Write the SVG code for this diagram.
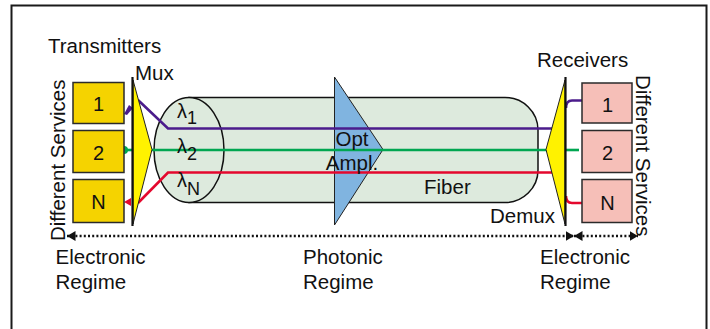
<svg xmlns="http://www.w3.org/2000/svg" width="710" height="329" viewBox="0 0 710 329">
<defs>
<style>
text{font-family:"Liberation Sans",Arial,sans-serif;fill:#111;font-size:20.5px}
.num{font-size:20px;text-anchor:middle}
.lam{font-size:20px}
.sub{font-size:18px}
.tx{fill:#F5D300;stroke:#2a2a2a;stroke-width:1.5}
.rx{fill:#F6BFB8;stroke:#2a2a2a;stroke-width:1.5}
.mx{fill:#FFF200;stroke:#222;stroke-width:1}
.bar{stroke:#111;stroke-width:2.2}
.sig{fill:none;stroke-width:2.6}
.p{stroke:#4B1C8C}
.g{stroke:#00A651}
.r{stroke:#E4082E}
.dot{fill:none;stroke:#111;stroke-width:2.5;stroke-dasharray:2 2.2}
</style>
<marker id="ah" viewBox="0 0 10 10" refX="10" refY="5" markerWidth="8.5" markerHeight="10" markerUnits="userSpaceOnUse" orient="auto-start-reverse" preserveAspectRatio="none">
<path d="M0,0 L10,5 L0,10 Z" fill="#111"/>
</marker>
</defs>
<rect width="710" height="329" fill="#fff"/>
<path d="M11.5,340 V5.5 H706.5 V340" fill="none" stroke="#1a1a1a" stroke-width="2"/>

<g id="fiber">
<path d="M189,97.5 H505 C523,97.5 538,112 538,130 V170 C538,188 523,202.5 505,202.5 H189 Z" fill="#DDEADD" stroke="#111" stroke-width="1.5"/>
<ellipse cx="189" cy="150" rx="35" ry="52.5" fill="#DDEADD" stroke="#111" stroke-width="1.5"/>
</g>

<g id="amp">
<polygon points="334.5,77 383,149.5 334.5,225" fill="#80B4E0" stroke="#222" stroke-width="1"/>
</g>

<g id="connectors">
<path class="sig p" d="M138,100 L168,128.5 H553"/>
<path class="sig g" d="M151,150 H547"/>
<path class="sig r" d="M138,203 L168,172.5 H553"/>
<path class="sig g" d="M565,150 H579"/>
<path class="sig p" d="M566,108 Q566,100.5 572,100.5 H596"/>
<path class="sig r" d="M566,196 Q566,203 572,203 H600"/>
<polygon points="124,114 129,105 133,108 127,115" fill="#4B1C8C"/>
<path d="M124,146 A4,4 0 0 1 124,154 Z" fill="#00A651"/>
<path class="sig g" d="M125,150 H133"/>
<polygon points="124,202 131,198 131,206" fill="#E4082E"/>
<path class="dot" d="M67,236 H574" marker-start="url(#ah)" marker-end="url(#ah)"/>
<path class="dot" d="M574,236 H638" marker-start="url(#ah)" marker-end="url(#ah)"/>
</g>

<g id="tx1"><rect class="tx" x="73" y="82.5" width="51" height="41"/><text class="num" x="98.5" y="111">1</text></g>
<g id="tx2"><rect class="tx" x="73" y="130.5" width="51" height="42"/><text class="num" x="98.5" y="159.5">2</text></g>
<g id="txN"><rect class="tx" x="73" y="179.5" width="51" height="43"/><text class="num" x="98.5" y="208.5">N</text></g>

<g id="mux">
<polygon class="mx" points="133,80 152,149.5 133,224"/>
<line class="bar" x1="132.5" y1="77" x2="132.5" y2="226"/>
<text x="135" y="80">Mux</text>
</g>

<g id="demux">
<polygon class="mx" points="565,80 546,149.5 565,224"/>
<line class="bar" x1="565.5" y1="77" x2="565.5" y2="226"/>
<text x="490" y="223">Demux</text>
</g>

<g id="rx1"><rect class="rx" x="582" y="83" width="50" height="40"/><text class="num" x="607.5" y="112">1</text></g>
<g id="rx2"><rect class="rx" x="582" y="130.5" width="50" height="42"/><text class="num" x="607.5" y="160">2</text></g>
<g id="rxN"><rect class="rx" x="582" y="179.5" width="50" height="43"/><text class="num" x="607.5" y="210">N</text></g>

<g id="labels">
<text x="48" y="53">Transmitters</text>
<text x="537" y="67">Receivers</text>
<text x="424" y="194">Fiber</text>
<text x="352" y="146" text-anchor="middle">Opt</text>
<text x="352" y="170" text-anchor="middle">Ampl.</text>
<text class="lam" x="177" y="118">λ<tspan class="sub" dy="5.5">1</tspan></text>
<text class="lam" x="177" y="153">λ<tspan class="sub" dy="7">2</tspan></text>
<text class="lam" x="177" y="187">λ<tspan class="sub" dy="8">N</tspan></text>
<text transform="translate(65,241) rotate(-90)">Different Services</text>
<text transform="translate(636,75) rotate(90)">Different Services</text>
<text x="55.5" y="264">Electronic</text>
<text x="55.5" y="289">Regime</text>
<text x="303" y="264">Photonic</text>
<text x="303" y="289">Regime</text>
<text x="540" y="264">Electronic</text>
<text x="540" y="289">Regime</text>
</g>
</svg>
